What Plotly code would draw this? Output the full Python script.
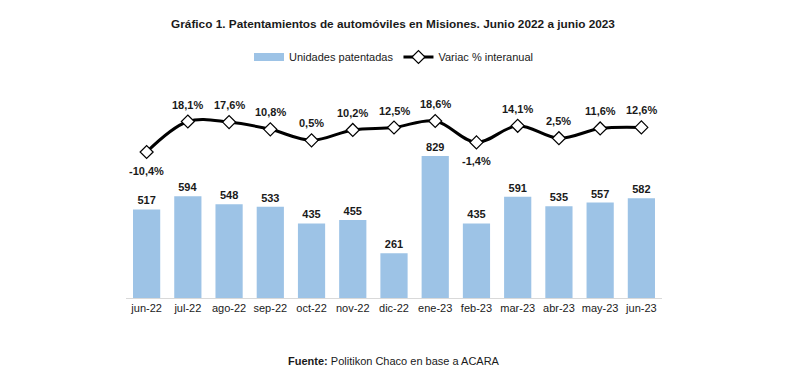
import plotly.graph_objects as go

categories = ["jun-22", "jul-22", "ago-22", "sep-22", "oct-22", "nov-22", "dic-22",
              "ene-23", "feb-23", "mar-23", "abr-23", "may-23", "jun-23"]
unidades = [517, 594, 548, 533, 435, 455, 261, 829, 435, 591, 535, 557, 582]
variacion = [-10.4, 18.1, 17.6, 10.8, 0.5, 10.2, 12.5, 18.6, -1.4, 14.1, 2.5, 11.6, 12.6]

font_family = "Liberation Sans, Arial, sans-serif"
bar_color = "#9dc3e6"
label_font = dict(family=font_family, size=11, color="#1a1a1a", weight="bold")

var_text = [f"{v:.1f}%".replace(".", ",") for v in variacion]

W, H = 770, 373  # page body has 8px default margin
fig = go.Figure()
fig.add_trace(go.Bar(
    x=categories, y=unidades, name="Unidades patentadas", showlegend=False,
    marker=dict(color=bar_color, line=dict(width=0)),
    text=[str(u) for u in unidades], textposition="outside",
    textfont=label_font,
    cliponaxis=False,
))
# legend entry with a wide swatch for the bars
fig.add_trace(go.Scatter(
    x=[None], y=[None], name="Unidades patentadas", mode="lines",
    line=dict(color=bar_color, width=8),
))
fig.add_trace(go.Scatter(
    x=categories, y=variacion, name="Variac % interanual", yaxis="y2",
    mode="lines+markers",
    line=dict(color="black", width=3, shape="spline", smoothing=1.0),
    marker=dict(symbol="diamond", size=10, color="white", line=dict(color="black", width=1.2)),
    cliponaxis=False,
))

annotations = []
for c, v, t in zip(categories, variacion, var_text):
    annotations.append(dict(
        x=c, y=v, xref="x", yref="y2", text=t, showarrow=False,
        xanchor="center", yanchor="middle", yshift=(-19 if v < 0 else 17),
        font=label_font,
    ))
annotations.append(dict(
    text="<b>Fuente:</b> Politikon Chaco en base a ACARA",
    xref="paper", yref="paper", x=0.5, y=-(353 - 290) / 198,
    xanchor="center", yanchor="middle", showarrow=False,
    font=dict(family=font_family, size=11, color="#1a1a1a")))

fig.update_layout(
    width=W, height=H,
    paper_bgcolor="white", plot_bgcolor="white",
    margin=dict(l=118, r=116, t=92, b=83, autoexpand=False),
    bargap=0.34,
    showlegend=True,
    legend=dict(orientation="h", x=0.5, xanchor="center", y=1 - 49 / H, yanchor="middle",
                yref="container", font=dict(family=font_family, size=11, color="#1a1a1a"),
                traceorder="normal", itemwidth=30),
    xaxis=dict(showline=True, linecolor="#d9d9d9", linewidth=1, ticks="",
               range=[-0.5, len(categories) - 0.5],
               tickfont=dict(family=font_family, size=11, color="#1a1a1a"), showgrid=False,
               automargin=False),
    yaxis=dict(range=[0, 1156], visible=False, showgrid=False),
    yaxis2=dict(range=[-146.8, 38.2], overlaying="y", visible=False, showgrid=False),
    title=dict(text="<b>Gráfico 1. Patentamientos de automóviles en Misiones. Junio 2022 a junio 2023</b>",
               x=0.5, xanchor="center", y=1 - 16 / H, yanchor="middle",
               font=dict(family=font_family, size=11.8, color="#1a1a1a")),
    annotations=annotations,
)

fig.write_html("out.html")
